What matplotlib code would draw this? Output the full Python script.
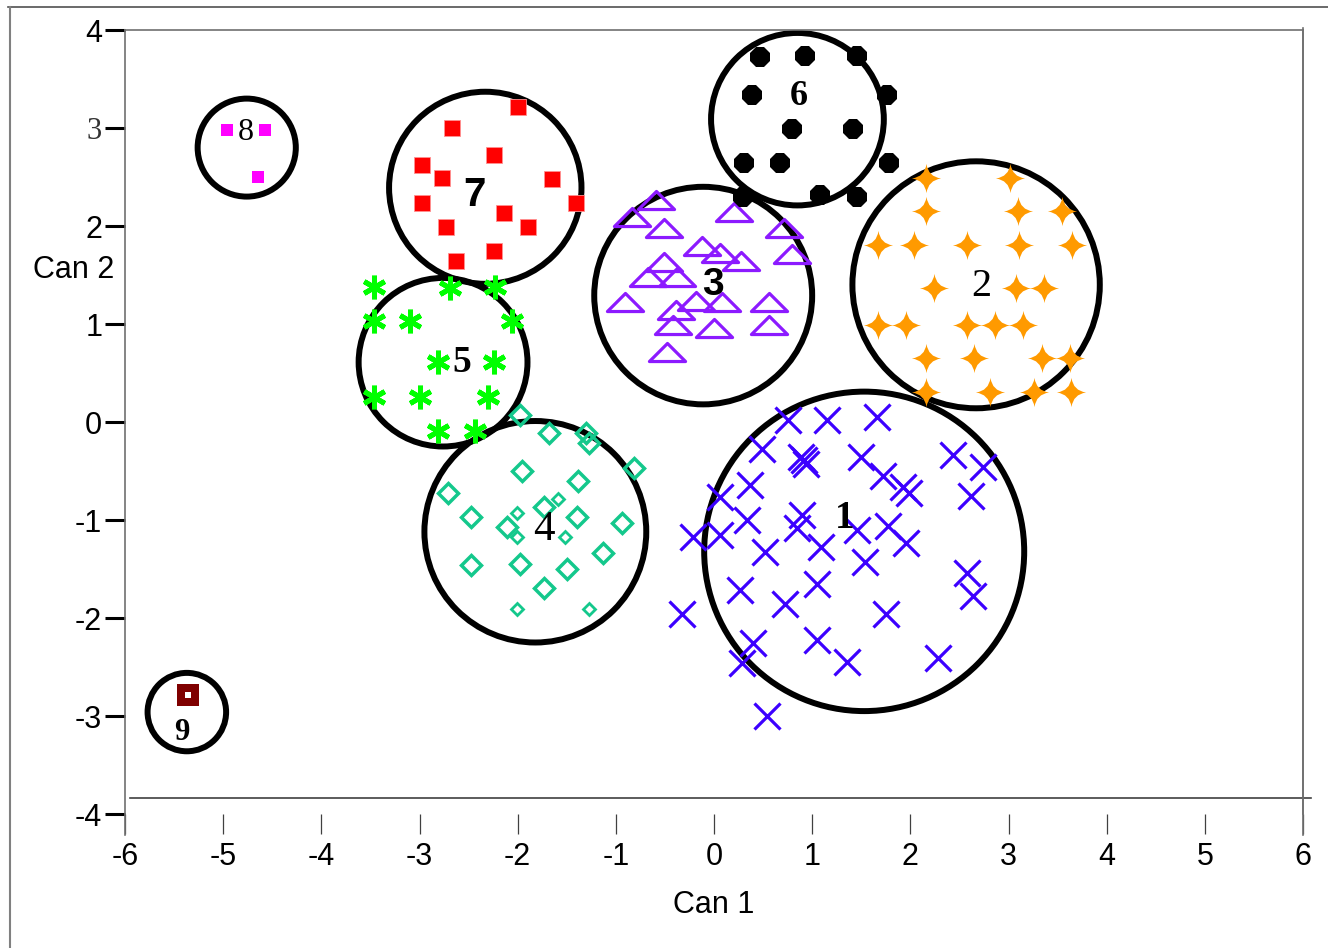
import matplotlib
matplotlib.use("Agg")
from matplotlib import pyplot as plt
from matplotlib.patches import Circle
from matplotlib.path import Path
from matplotlib.lines import Line2D

# group 1 - blue crosses
c1_x = [0.75, 1.15, 1.66, 0.49, 0.92, 0.89, 0.94, 1.50, 1.72, 1.93, 1.99, 2.43, 2.74, 2.62,
        0.37, 0.06, 0.34, 0.90, 0.85, 0.06, -0.21, 1.77, 1.46, 1.09, 1.96, 0.52, 1.54, 2.58,
        2.64, 0.26, 1.05, 0.72, 1.75, -0.33, 0.40, 0.29, 1.35, 2.28, 1.05, 0.54]
c1_y = [0.02, 0.02, 0.05, -0.28, -0.39, -0.36, -0.43, -0.36, -0.55, -0.66, -0.72, -0.34, -0.46, -0.76,
        -0.64, -0.77, -1.00, -0.95, -1.08, -1.15, -1.17, -1.06, -1.10, -1.28, -1.23, -1.33, -1.43, -1.54,
        -1.78, -1.71, -1.65, -1.86, -1.96, -1.96, -2.26, -2.46, -2.45, -2.41, -2.22, -3.00]
# group 2 - orange stars
c2_x = [2.16, 3.02, 2.16, 3.10, 3.54, 1.67, 2.04, 2.58, 3.11, 3.65, 2.24, 3.08, 3.36,
        1.67, 1.96, 2.58, 2.86, 3.15, 2.16, 2.65, 3.34, 3.63, 2.16, 2.81, 3.26, 3.64]
c2_y = [2.49, 2.49, 2.15, 2.15, 2.15, 1.81, 1.81, 1.81, 1.81, 1.81, 1.37, 1.37, 1.37,
        0.99, 0.99, 0.99, 0.99, 0.99, 0.65, 0.65, 0.65, 0.65, 0.31, 0.31, 0.31, 0.31]
# group 3 - purple triangles
c3_x = [-0.59, -0.84, 0.20, -0.51, 0.71, 0.79, -0.12, 0.06, 0.28, -0.51, -0.67,
        -0.38, -0.91, -0.18, 0.08, 0.56, -0.39, -0.42, 0.00, 0.56, -0.48]
c3_y = [2.27, 2.09, 2.14, 1.98, 1.98, 1.71, 1.80, 1.72, 1.64, 1.63, 1.48,
        1.48, 1.22, 1.23, 1.22, 1.22, 1.14, 0.99, 0.96, 0.99, 0.71]
# group 4 - teal diamonds (large and small)
c4_x = [-1.98, -1.68, -1.30, -1.27, -1.96, -0.81, -1.39, -2.71, -1.73, -1.40,
        -2.48, -2.11, -0.94, -2.48, -1.98, -1.13, -1.50, -1.73]
c4_y = [0.07, -0.11, -0.11, -0.21, -0.50, -0.47, -0.60, -0.72, -0.87, -0.97,
        -0.97, -1.07, -1.03, -1.46, -1.45, -1.34, -1.50, -1.69]
c4s_x = [-1.59, -2.01, -2.01, -1.52, -2.01, -1.27]
c4s_y = [-0.79, -0.93, -1.17, -1.17, -1.91, -1.91]
# group 5 - green asterisks
c5_x = [-3.46, -2.69, -2.23, -3.46, -3.10, -2.06, -2.81, -2.24, -3.46, -3.00, -2.30, -2.81, -2.43]
c5_y = [1.38, 1.37, 1.38, 1.03, 1.03, 1.03, 0.61, 0.61, 0.26, 0.26, 0.26, -0.09, -0.09]
# group 6 - black octagons
c6_x = [0.47, 0.93, 1.46, 0.39, 1.76, 0.79, 1.42, 0.31, 0.67, 1.78, 0.30, 1.08, 1.46]
c6_y = [3.72, 3.73, 3.73, 3.34, 3.34, 2.99, 2.99, 2.64, 2.64, 2.64, 2.30, 2.32, 2.30]
# group 7 - red squares
c7_x = [-2.00, -2.67, -2.24, -2.97, -2.77, -1.65, -2.97, -1.41, -2.14, -2.73, -1.89, -2.24, -2.63]
c7_y = [3.21, 3.00, 2.72, 2.62, 2.49, 2.48, 2.23, 2.23, 2.13, 1.99, 1.99, 1.74, 1.64]
# group 8 - magenta squares
c8_x = [-4.96, -4.57, -4.65]
c8_y = [2.98, 2.98, 2.50]
# group 9
c9_x = [-5.36]
c9_y = [-2.79]

# group circles
circ_x = [1.53, 2.67, -0.11, -1.82, -2.76, 0.85, -2.33, -4.76, -5.37]
circ_y = [-1.32, 1.40, 1.29, -1.12, 0.61, 3.09, 2.39, 2.80, -2.96]
circ_r = [1.63, 1.26, 1.11, 1.13, 0.86, 0.88, 0.98, 0.50, 0.40]
lab_text = ["1", "2", "3", "4", "5", "6", "7", "8", "9"]
lab_x = [1.33, 2.72, -0.01, -1.73, -2.57, 0.86, -2.44, -4.77, -5.42]
lab_y = [-0.98, 1.38, 1.40, -1.10, 0.61, 3.32, 2.32, 2.95, -3.17]
lab_font = [("Liberation Serif", "bold", 28), ("Liberation Serif", "normal", 29),
            ("Liberation Sans", "bold", 28), ("Liberation Serif", "normal", 31),
            ("Liberation Serif", "bold", 27), ("Liberation Serif", "bold", 26),
            ("Liberation Sans", "bold", 29), ("Liberation Serif", "normal", 23),
            ("Liberation Serif", "bold", 22)]

plt.rcParams['font.family'] = ['Liberation Sans', 'DejaVu Sans']
plt.rcParams['axes.unicode_minus'] = False

# custom marker shapes
star4 = Path([(0, 1), (0.12, 0.12), (1, 0), (0.12, -0.12), (0, -1), (-0.12, -0.12),
              (-1, 0), (-0.12, 0.12), (0, 1)],
             [Path.MOVETO, Path.CURVE3, Path.CURVE3, Path.CURVE3, Path.CURVE3,
              Path.CURVE3, Path.CURVE3, Path.CURVE3, Path.CURVE3])
flat_tri = Path([(-1, -0.5), (1, -0.5), (0, 0.5), (-1, -0.5)],
                [Path.MOVETO, Path.LINETO, Path.LINETO, Path.CLOSEPOLY])

fig = plt.figure(figsize=(13.28, 9.48), dpi=100)
ax = fig.add_axes([125 / 1328, 1 - 814 / 948, 1178 / 1328, 784 / 948])
ax.set_xlim(-6, 6)
ax.set_ylim(-4, 4)

for x, y, r in zip(circ_x, circ_y, circ_r):
    ax.add_patch(Circle((x, y), r, fill=False, edgecolor='black', linewidth=4.3, zorder=2))

ax.plot(c1_x, c1_y, ls='none', marker='x', ms=19, mew=2.3, color='#3c00ff', zorder=3)
ax.plot(c2_x, c2_y, ls='none', marker=star4, ms=21, mew=0, color='#ff9a00', zorder=3)
ax.plot(c3_x, c3_y, ls='none', marker=flat_tri, ms=26, mew=2.3, mfc='none', mec='#8c1aff', zorder=3)
ax.plot(c4_x, c4_y, ls='none', marker='D', ms=10, mew=2.5, mfc='none', mec='#14c88c', zorder=3)
ax.plot(c4s_x, c4s_y, ls='none', marker='D', ms=6.5, mew=2.0, mfc='none', mec='#14c88c', zorder=3)
ax.plot(c5_x, c5_y, ls='none', marker=(6, 2, 0), ms=17, mew=3.6, color='#00ff00', zorder=3)
ax.plot(c6_x, c6_y, ls='none', marker='8', ms=16, mew=0, color='black', zorder=3)
ax.plot(c7_x, c7_y, ls='none', marker='s', ms=12, mew=0.6, color='#ff0000', mec='#ff9090', zorder=3)
ax.plot(c8_x, c8_y, ls='none', marker='s', ms=8, mew=0, color='#ff00ff', zorder=3)
ax.plot(c9_x, c9_y, ls='none', marker='s', ms=16, mew=0, color='#7f0000', zorder=3)
ax.plot(c9_x, c9_y, ls='none', marker='s', ms=5, mew=0, color='white', zorder=4)

for t, x, y, (fam, wt, sz) in zip(lab_text, lab_x, lab_y, lab_font):
    ax.text(x, y, t, family=fam, weight=wt, fontsize=sz, ha='center', va='center', zorder=5)

# axes frame
for s in ['left', 'bottom']:
    ax.spines[s].set_visible(False)
for s in ['top', 'right']:
    ax.spines[s].set_color('#707070')
    ax.spines[s].set_linewidth(1.2)
ax.plot([-6, -6], [-4.21, 4], color='#707070', lw=1.2, clip_on=False)
ax.plot([6, 6], [-4.21, 4.02], color='#707070', lw=1.2, clip_on=False)
ax.plot([-5.95, 6.08], [-3.84, -3.84], color='#404040', lw=1.2, clip_on=False)

ax.set_xticks(range(-6, 7))
ax.set_yticks(range(-4, 5))
ax.tick_params(axis='x', direction='out', length=14.4, width=0.9, color='#404040',
               labelsize=22, pad=6)
ax.tick_params(axis='y', direction='out', length=14.4, width=2.2, color='black',
               labelsize=22, pad=2)
for lbl in ax.get_yticklabels():
    if lbl.get_text() == '3':
        lbl.set_family('Liberation Serif')
        lbl.set_color('#333333')

fig.text(714 / 1328, 1 - 905 / 948, 'Can 1', fontsize=22, ha='center', va='center')
fig.text(74 / 1328, 1 - 270 / 948, 'Can 2', fontsize=22, ha='center', va='center')

# outer border lines
fig.add_artist(Line2D([8 / 1328, 1], [1 - 7 / 948, 1 - 7 / 948], color='#505050', lw=1.2))
fig.add_artist(Line2D([10 / 1328, 10 / 1328], [0, 1 - 7 / 948], color='#808080', lw=1.5))

fig.savefig('out.png', dpi=100)
